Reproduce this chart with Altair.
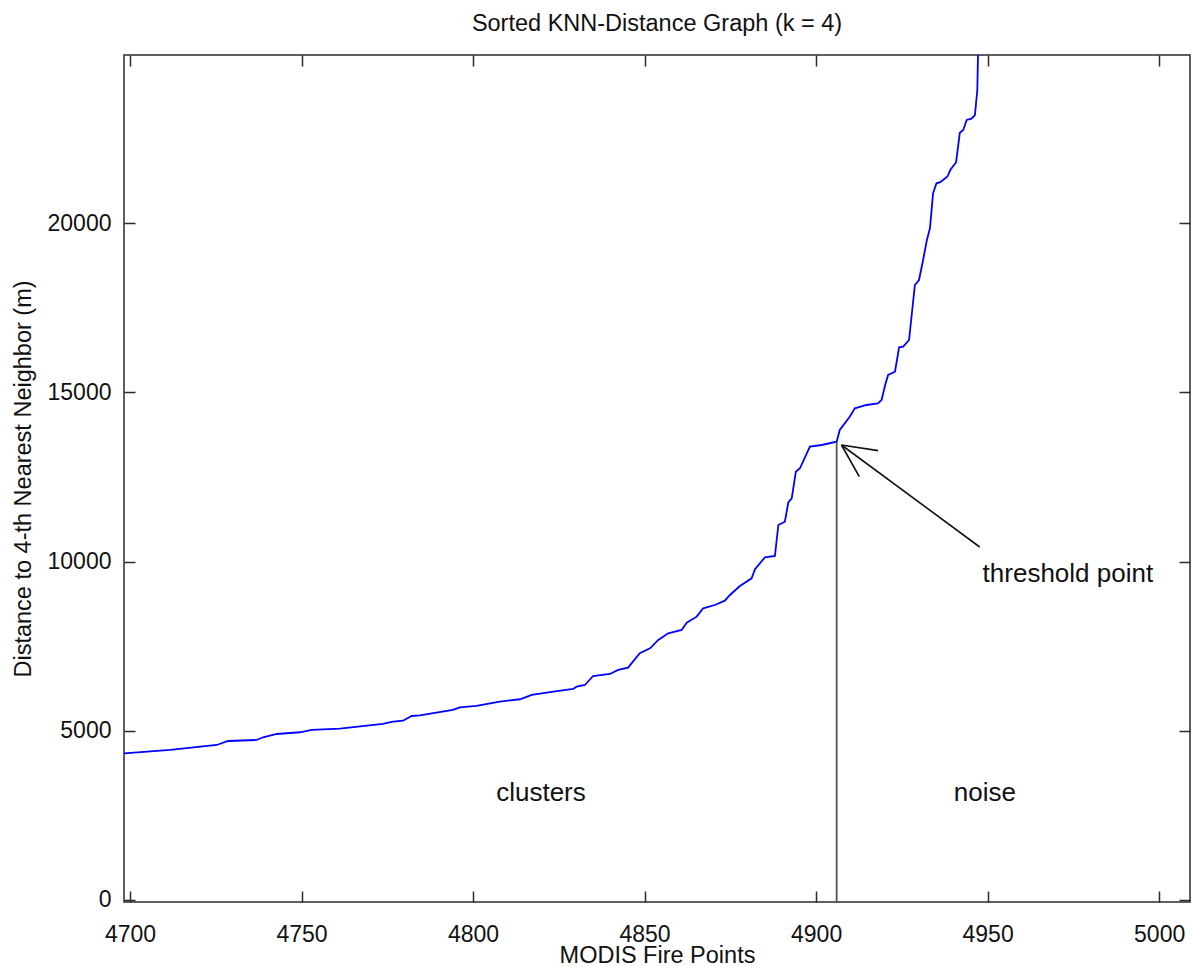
import altair as alt
import pandas as pd

# ---- data ----
knn_index = [4698.3, 4711.7, 4725.3, 4728.6, 4736.9, 4738.8, 4742.8, 4749.5, 4753.0, 4761.2,
             4773.7, 4776.7, 4779.6, 4782.1, 4784.5, 4794.1, 4796.2, 4801.0, 4807.8, 4813.7,
             4817.1, 4823.4, 4829.2, 4830.2, 4832.6, 4835.0, 4839.9, 4842.3, 4845.2, 4848.6,
             4851.6, 4854.0, 4856.9, 4860.8, 4862.3, 4865.2, 4867.1, 4870.5, 4873.4, 4874.9,
             4877.8, 4881.2, 4882.2, 4885.1, 4888.0, 4889.0, 4890.9, 4891.9, 4892.9, 4894.1,
             4895.3, 4898.2, 4901.6, 4906.0, 4906.9, 4909.8, 4911.3, 4914.7, 4918.0, 4919.1,
             4920.1, 4921.0, 4923.0, 4924.2, 4925.4, 4927.1, 4928.8, 4930.0, 4931.2, 4932.3,
             4933.2, 4934.1, 4935.1, 4936.2, 4938.3, 4939.2, 4940.8, 4941.9, 4942.9, 4943.9,
             4945.3, 4946.3, 4947.0, 4947.2, 4947.6]
knn_dist = [4335, 4433, 4580, 4698, 4728, 4808, 4905, 4956, 5024, 5062,
            5201, 5269, 5298, 5437, 5458, 5615, 5694, 5733, 5860, 5931,
            6058, 6155, 6235, 6303, 6353, 6619, 6678, 6797, 6865, 7290,
            7438, 7683, 7881, 7979, 8194, 8372, 8620, 8717, 8844, 9013,
            9279, 9506, 9772, 10127, 10165, 11081, 11179, 11746, 11870, 12656,
            12757, 13395, 13445, 13543, 13889, 14282, 14530, 14627, 14677, 14775,
            15204, 15514, 15611, 16332, 16350, 16548, 18173, 18321, 18912, 19503,
            19849, 20883, 21178, 21211, 21379, 21586, 21793, 22674, 22754, 23049,
            23087, 23197, 23936, 24970, 26500]
assert len(knn_index) == len(knn_dist)

x_ticks = [4700, 4750, 4800, 4850, 4900, 4950, 5000]
y_ticks = [0, 5000, 10000, 15000, 20000]
x_domain = [4698.25, 5009]
y_domain = [-60, 24970]

threshold_x = [4906.0]
threshold_top = [13543]
threshold_bottom = [-60]

# arrow: shaft and two barbs (start -> end)
arrow_x = [4947.7, 4918.1, 4912.6]
arrow_y = [10431, 13278, 12509]
arrow_x2 = [4907.4, 4907.4, 4907.4]
arrow_y2 = [13445, 13445, 13445]

label_text = ["clusters", "noise", "threshold point"]
label_x = [4819.8, 4949.2, 4973.4]
label_y = [3162, 3162, 9633]

FONT = "Liberation Sans"
AX = "#2b2b2b"

curve = pd.DataFrame({"i": knn_index, "d": knn_dist})
vline = pd.DataFrame({"x": threshold_x, "y": threshold_top, "y2": threshold_bottom})
arrow = pd.DataFrame({"x": arrow_x, "y": arrow_y, "x2": arrow_x2, "y2": arrow_y2})
labels = pd.DataFrame({"t": label_text, "x": label_x, "y": label_y})

xs = alt.Scale(domain=x_domain, nice=False, zero=False)
ys = alt.Scale(domain=y_domain, nice=False, zero=False)

common_axis = dict(domain=False, grid=False, tickSize=11, offset=-11, tickColor=AX,
                   tickWidth=1.5, labelFont=FONT, labelFontSize=23, labelColor="#111",
                   titleFont=FONT, titleFontSize=23.5, titleFontWeight="normal",
                   titleColor="#111", labelFlush=False, labelOverlap=False)

x_bottom = alt.Axis(orient="bottom", values=x_ticks, format="d", labelPadding=21,
                    title="MODIS Fire Points", titlePadding=-3, **common_axis)
y_left = alt.Axis(orient="left", values=y_ticks, format="d", labelPadding=13,
                  title="Distance to 4-th Nearest Neighbor (m)", titlePadding=12, **common_axis)
x_top = alt.Axis(orient="top", values=x_ticks, labels=False, title=None, **common_axis)
y_right = alt.Axis(orient="right", values=y_ticks, labels=False, title=None, **common_axis)

line = alt.Chart(curve).mark_line(color="#0000ff", strokeWidth=1.8, clip=True).encode(
    x=alt.X("i:Q", scale=xs, axis=x_bottom),
    y=alt.Y("d:Q", scale=ys, axis=y_left),
)

vrule = alt.Chart(vline).mark_rule(color="#555555", strokeWidth=1.8).encode(
    x=alt.X("x:Q", scale=xs, axis=x_top),
    y=alt.Y("y:Q", scale=ys, axis=y_right),
    y2="y2:Q",
)

arrows = alt.Chart(arrow).mark_rule(color="#111111", strokeWidth=1.6).encode(
    x=alt.X("x:Q", scale=xs, axis=None), y=alt.Y("y:Q", scale=ys, axis=None),
    x2="x2:Q", y2="y2:Q"
)

texts = alt.Chart(labels).mark_text(font=FONT, fontSize=26, color="#111",
                                     align="center", baseline="middle").encode(
    x=alt.X("x:Q", scale=xs, axis=None), y=alt.Y("y:Q", scale=ys, axis=None), text="t:N"
)

chart = alt.layer(line, vrule, arrows, texts).resolve_axis(
    x="independent", y="independent"
).properties(
    width=1066, height=847,
    title=alt.TitleParams("Sorted KNN-Distance Graph (k = 4)", font=FONT, fontSize=23.5,
                          fontWeight="normal", color="#111", offset=19, anchor="middle"),
    autosize=alt.AutoSizeParams(type="none"),
    padding={"left": 124, "top": 55, "right": 2, "bottom": 65},
).configure_view(stroke=AX, strokeWidth=1.5)

chart.save("out.html", embed_options={"renderer": "svg", "actions": False})
